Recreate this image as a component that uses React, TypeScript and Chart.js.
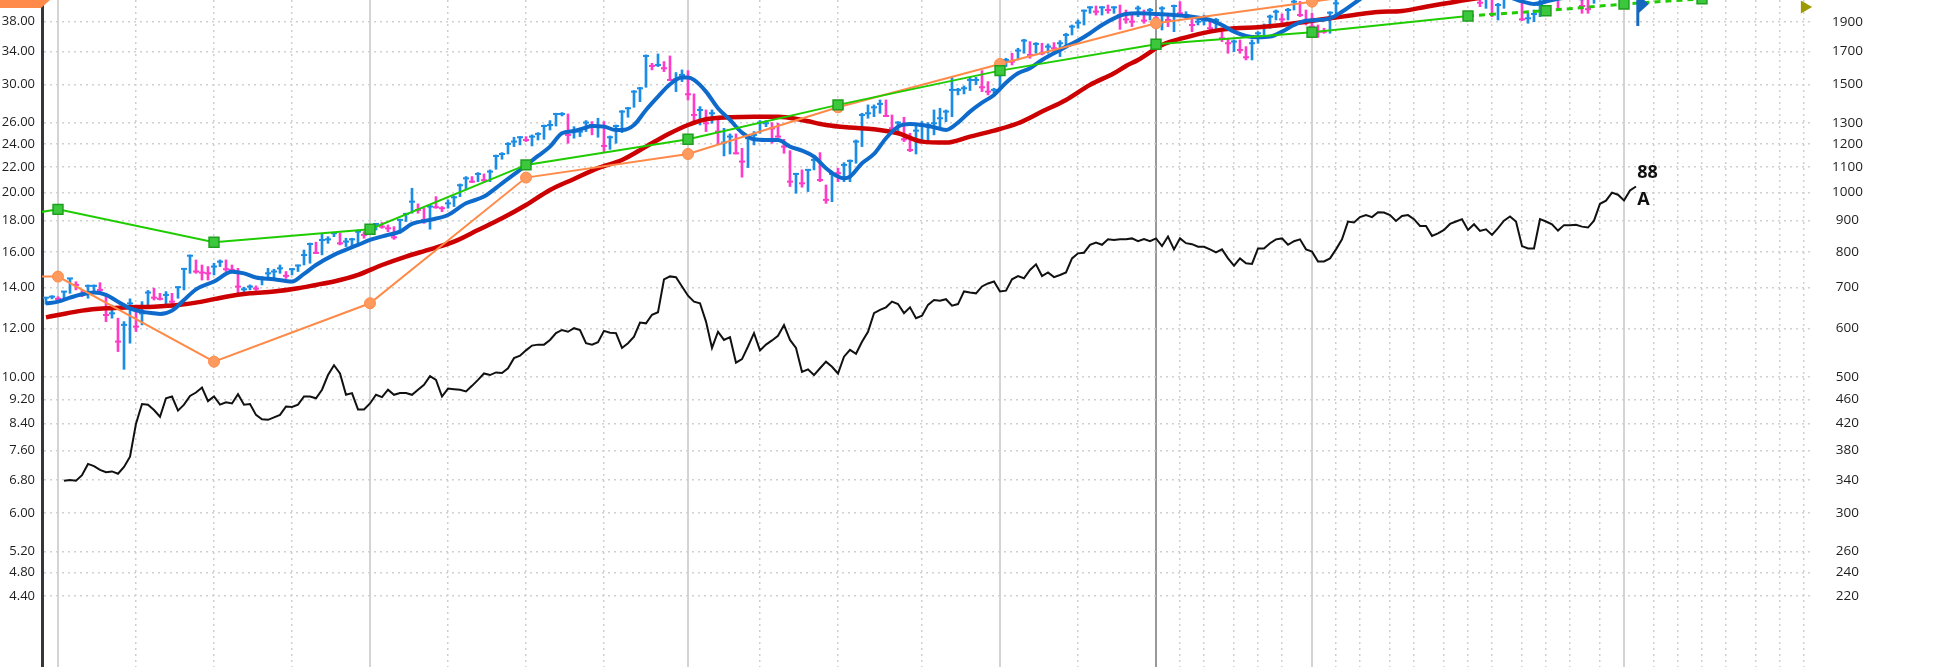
import React, { useEffect, useRef } from "react";
import { Chart, registerables } from "chart.js";

Chart.register(...registerables);

// ---------- canvas / plot frame ----------
const CANVAS_W = 1956;
const CANVAS_H = 667;
const PLOT_LEFT = 42;
const PLOT_RIGHT = 1812;

// ---------- axis ranges ----------
const X_MIN = -2.667;
const X_MAX = 292.333;
const Y_MIN = 3.368;
const Y_MAX = 41.22;
const RS_FACTOR = 50;

// ---------- tick labels ----------
const LEFT_TICKS = [38, 34, 30, 26, 24, 22, 20, 18, 16, 14, 12, 10, 9.2, 8.4, 7.6, 6.8, 6.0, 5.2, 4.8, 4.4];
const RIGHT_TICKS = [1900, 1700, 1500, 1300, 1200, 1100, 1000, 900, 800, 700, 600, 500, 460, 420, 380, 340, 300, 260, 240, 220];

// ---------- time grid (weeks) ----------
const YEAR_WEEKS = [0, 52, 105, 157, 209, 261];
const MARK_WEEK = 183;
const GRID_WEEKS = [13, 26, 39, 65, 78, 91, 117, 130, 144, 170, 187, 191, 196, 200, 204, 213, 217, 222, 226, 231, 235, 239, 244, 248, 252, 257, 266, 270, 274, 278, 283, 287, 291];

// ---------- weekly bars: [week, high, low, close, up(1)/down(0)] ----------
const BARS: [number, number, number, number, number][] = [
  [-2, 13.48, 13.15, 13.48, 1], [-1, 13.58, 13.42, 13.53, 1], [0, 13.53, 13.28, 13.42, 0], [1, 13.79, 13.40, 13.79, 1],
  [2, 14.49, 13.70, 14.49, 1], [3, 14.31, 13.88, 14.14, 0], [4, 13.85, 13.53, 13.67, 0], [5, 14.14, 13.45, 14.09, 1],
  [6, 14.14, 13.70, 14.09, 1], [7, 14.26, 13.70, 13.88, 0], [8, 13.56, 12.32, 12.63, 0], [9, 13.11, 12.48, 12.71, 1],
  [10, 12.48, 11.01, 11.43, 0], [11, 12.32, 10.30, 12.17, 1], [12, 13.42, 11.36, 13.19, 1], [13, 13.11, 11.87, 12.09, 0],
  [14, 13.28, 12.17, 12.71, 1], [15, 13.85, 13.06, 13.74, 1], [16, 13.97, 13.36, 13.48, 0], [17, 13.70, 13.36, 13.42, 0],
  [18, 13.79, 13.11, 13.62, 1], [19, 13.70, 13.16, 13.28, 0], [20, 14.05, 13.45, 14.02, 1], [21, 15.05, 13.88, 15.02, 1],
  [22, 15.82, 14.77, 15.78, 1], [23, 15.53, 14.77, 14.87, 0], [24, 15.24, 14.40, 14.81, 0], [25, 15.15, 14.40, 14.77, 0],
  [26, 15.34, 14.68, 15.15, 1], [27, 15.53, 15.15, 15.43, 1], [28, 15.53, 14.87, 15.00, 0], [29, 15.24, 14.87, 14.96, 0],
  [30, 15.05, 13.70, 14.05, 0], [31, 14.02, 13.79, 13.91, 1], [32, 14.14, 13.88, 14.05, 1], [33, 14.09, 13.85, 13.95, 0],
  [34, 14.59, 14.14, 14.49, 1], [35, 15.05, 14.49, 14.77, 1], [36, 15.00, 14.40, 14.87, 1], [37, 15.24, 14.77, 15.05, 1],
  [38, 14.87, 14.49, 14.63, 0], [39, 15.05, 14.68, 15.00, 1], [40, 15.24, 14.87, 15.21, 1], [41, 16.12, 15.24, 15.82, 1],
  [42, 16.55, 15.34, 16.49, 1], [43, 16.60, 15.90, 15.95, 0], [44, 17.11, 15.83, 16.74, 1], [45, 16.95, 16.53, 16.78, 1],
  [46, 17.23, 16.95, 17.17, 1], [47, 17.17, 16.43, 16.53, 0], [48, 16.85, 16.33, 16.64, 1], [49, 16.85, 16.33, 16.78, 1],
  [50, 17.38, 16.53, 17.27, 1], [51, 17.27, 16.85, 17.06, 0], [52, 17.64, 17.17, 17.49, 1], [53, 17.82, 17.38, 17.78, 1],
  [54, 17.87, 17.49, 17.60, 0], [55, 17.71, 17.27, 17.49, 0], [56, 17.60, 16.78, 16.91, 0], [57, 18.10, 17.17, 18.05, 1],
  [58, 18.51, 17.94, 18.46, 1], [59, 20.33, 18.51, 19.33, 1], [60, 19.17, 18.51, 18.74, 0], [61, 18.86, 17.82, 18.05, 0],
  [62, 19.09, 17.43, 18.98, 1], [63, 19.70, 18.86, 18.93, 0], [64, 18.98, 18.62, 18.86, 0], [65, 19.46, 18.86, 19.21, 1],
  [66, 19.75, 18.98, 19.65, 1], [67, 20.66, 19.70, 20.56, 1], [68, 21.24, 20.20, 21.10, 1], [69, 21.24, 20.76, 20.84, 0],
  [70, 21.56, 20.84, 21.45, 1], [71, 21.45, 20.76, 20.95, 0], [72, 21.78, 20.84, 21.64, 1], [73, 23.03, 21.83, 22.95, 1],
  [74, 23.24, 22.67, 23.12, 1], [75, 24.13, 23.12, 24.01, 1], [76, 24.62, 23.77, 24.22, 1], [77, 24.68, 23.92, 24.62, 1],
  [78, 24.68, 24.22, 24.37, 0], [79, 24.84, 23.83, 24.68, 1], [80, 25.05, 24.37, 24.93, 1], [81, 25.78, 24.43, 25.68, 1],
  [82, 26.21, 25.30, 25.78, 1], [83, 26.94, 25.68, 26.87, 1], [84, 27.01, 26.67, 26.87, 1], [85, 26.87, 24.07, 24.84, 0],
  [86, 25.62, 24.53, 25.15, 1], [87, 25.46, 24.68, 25.15, 1], [88, 26.21, 25.15, 26.01, 1], [89, 26.11, 24.84, 25.78, 0],
  [90, 26.44, 24.62, 25.62, 1], [91, 26.11, 23.32, 23.83, 0], [92, 24.74, 23.53, 24.62, 1], [93, 25.78, 24.07, 25.68, 1],
  [94, 27.21, 25.05, 27.11, 1], [95, 27.55, 26.54, 27.45, 1], [96, 29.34, 27.55, 29.22, 1], [97, 29.70, 28.14, 29.59, 1],
  [98, 33.54, 29.70, 33.41, 1], [99, 32.50, 31.70, 32.18, 0], [100, 33.66, 32.10, 32.30, 1], [101, 32.71, 31.50, 31.90, 0],
  [102, 33.41, 30.45, 30.53, 0], [103, 31.39, 29.22, 30.61, 1], [104, 31.70, 30.34, 31.11, 1], [105, 31.62, 28.32, 28.93, 0],
  [106, 28.97, 26.11, 26.77, 0], [107, 27.62, 25.78, 27.28, 1], [108, 27.28, 25.15, 25.95, 0], [109, 27.28, 25.95, 26.94, 1],
  [110, 26.27, 24.01, 25.15, 0], [111, 25.46, 22.95, 24.13, 1], [112, 24.93, 23.12, 24.68, 1], [113, 24.93, 23.12, 23.18, 0],
  [114, 23.62, 21.19, 22.47, 0], [115, 24.84, 21.97, 24.53, 1], [116, 25.15, 23.92, 24.84, 1], [117, 26.21, 24.99, 26.01, 1],
  [118, 26.21, 25.62, 25.95, 1], [119, 26.01, 24.07, 25.46, 0], [120, 25.95, 24.62, 24.68, 0], [121, 24.43, 23.18, 23.77, 0],
  [122, 23.41, 20.46, 20.84, 0], [123, 21.51, 19.95, 21.45, 1], [124, 21.78, 20.41, 20.71, 0], [125, 21.83, 20.08, 21.78, 1],
  [126, 22.95, 21.78, 22.61, 1], [127, 23.24, 20.84, 20.97, 0], [128, 20.58, 19.21, 19.46, 0], [129, 21.51, 19.33, 21.45, 1],
  [130, 21.92, 20.84, 21.51, 0], [131, 22.38, 20.84, 22.19, 1], [132, 22.61, 20.84, 22.53, 1], [133, 24.37, 22.33, 24.22, 1],
  [134, 26.94, 23.77, 26.77, 1], [135, 27.80, 26.44, 26.94, 1], [136, 27.80, 26.60, 27.55, 1], [137, 28.32, 26.94, 27.90, 1],
  [138, 28.32, 26.60, 26.67, 0], [139, 26.77, 25.30, 25.46, 0], [140, 26.11, 25.15, 26.01, 1], [141, 26.54, 24.22, 24.43, 0],
  [142, 24.99, 23.32, 23.47, 0], [143, 25.68, 23.12, 25.24, 1], [144, 26.11, 24.22, 25.68, 1], [145, 26.01, 24.22, 25.78, 1],
  [146, 27.28, 24.84, 25.95, 1], [147, 27.45, 25.62, 26.44, 1], [148, 27.28, 26.11, 27.11, 1], [149, 30.84, 26.60, 29.41, 1],
  [150, 29.59, 28.86, 29.41, 1], [151, 29.85, 28.97, 29.59, 1], [152, 30.84, 29.34, 30.53, 1], [153, 30.84, 30.00, 30.53, 1],
  [154, 31.62, 29.22, 29.70, 0], [155, 30.34, 28.86, 29.22, 0], [156, 29.59, 29.04, 29.41, 1], [157, 32.71, 29.41, 32.30, 1],
  [158, 33.12, 32.10, 32.91, 1], [159, 33.75, 32.30, 32.71, 0], [160, 34.39, 32.91, 34.09, 1], [161, 35.57, 33.75, 35.39, 1],
  [162, 35.26, 33.12, 33.54, 0], [163, 35.13, 33.75, 34.95, 1], [164, 35.04, 33.54, 33.75, 0], [165, 34.95, 33.75, 34.60, 1],
  [166, 35.13, 33.96, 34.39, 0], [167, 35.39, 33.33, 35.04, 1], [168, 36.38, 34.60, 36.15, 1], [169, 37.53, 36.15, 37.30, 1],
  [170, 38.24, 37.07, 37.86, 1], [171, 39.70, 37.53, 39.60, 1], [172, 40.20, 39.21, 40.10, 1], [173, 40.30, 38.96, 39.45, 0],
  [174, 40.20, 38.96, 40.10, 1], [175, 40.45, 39.21, 39.70, 0], [176, 40.20, 39.21, 40.10, 1], [177, 40.45, 36.92, 38.96, 0],
  [178, 39.70, 37.77, 38.33, 0], [179, 38.96, 37.30, 38.00, 0], [180, 40.30, 38.72, 39.95, 1], [181, 39.70, 37.77, 38.15, 0],
  [182, 39.95, 38.24, 39.70, 1], [183, 38.96, 37.30, 38.48, 0], [184, 40.20, 36.83, 39.95, 1], [185, 39.21, 37.30, 38.24, 0],
  [186, 40.45, 36.60, 40.30, 1], [187, 40.96, 38.96, 39.21, 0], [188, 39.45, 38.48, 38.96, 1], [189, 38.48, 36.60, 37.53, 0],
  [190, 38.72, 37.53, 38.00, 1], [191, 38.96, 37.53, 38.15, 1], [192, 38.15, 36.60, 37.07, 0], [193, 38.48, 36.60, 38.24, 1],
  [194, 36.60, 35.26, 35.70, 0], [195, 35.70, 33.75, 35.04, 0], [196, 35.48, 33.96, 35.26, 1], [197, 35.48, 33.75, 34.17, 0],
  [198, 34.60, 32.91, 33.24, 0], [199, 35.48, 32.91, 35.04, 1], [200, 36.60, 35.04, 36.38, 1], [201, 37.67, 35.70, 37.39, 1],
  [202, 38.96, 37.07, 38.72, 1], [203, 39.70, 38.24, 39.45, 1], [204, 39.11, 37.77, 38.33, 0], [205, 39.95, 38.24, 39.70, 1],
  [206, 41.80, 39.70, 40.96, 1], [207, 41.00, 38.72, 38.96, 0], [208, 39.70, 37.53, 38.00, 0], [209, 39.21, 36.38, 37.30, 0],
  [210, 37.53, 35.83, 36.60, 0], [211, 37.07, 36.38, 36.60, 0], [212, 39.45, 36.38, 39.30, 1], [213, 42.00, 38.96, 40.71, 1],
  [214, 44.0, 41.5, 43.5, 1], [215, 45.0, 43.0, 44.5, 1], [216, 45.5, 43.8, 44.2, 0], [217, 46.5, 44.0, 46.0, 1],
  [218, 47.0, 45.0, 45.5, 0], [219, 47.5, 45.0, 47.0, 1], [220, 48.0, 46.0, 46.5, 0], [221, 47.5, 45.5, 46.0, 0],
  [222, 47.5, 45.5, 47.0, 1], [223, 48.5, 46.5, 48.0, 1], [224, 48.5, 46.0, 46.5, 0], [225, 47.0, 44.5, 45.0, 0],
  [226, 46.5, 44.5, 46.0, 1], [227, 47.0, 45.0, 45.5, 0], [228, 46.5, 44.0, 44.5, 0], [229, 45.5, 43.5, 45.0, 1],
  [230, 46.0, 44.0, 44.5, 0], [231, 45.0, 43.0, 43.5, 0], [232, 44.5, 42.5, 44.0, 1], [233, 45.0, 43.0, 43.5, 0],
  [234, 44.5, 42.5, 44.0, 1], [235, 45.0, 43.0, 44.5, 1], [236, 45.0, 42.5, 43.0, 0], [237, 43.0, 40.2, 40.8, 0],
  [238, 42.5, 39.95, 41.8, 1], [239, 42.0, 38.72, 39.11, 0], [240, 40.71, 38.24, 40.45, 1], [241, 43.0, 39.95, 42.0, 1],
  [242, 43.5, 41.5, 42.5, 1], [243, 43.0, 41.3, 41.6, 0], [244, 42.5, 38.15, 38.33, 0], [245, 39.21, 37.77, 38.48, 1],
  [246, 39.70, 38.00, 39.11, 1], [247, 41.6, 38.72, 40.45, 1], [248, 43.0, 41.5, 42.5, 1], [249, 44.0, 42.0, 43.5, 1],
  [250, 44.0, 39.95, 41.8, 0], [251, 43.5, 41.4, 43.0, 1], [252, 44.5, 42.5, 44.0, 1], [253, 44.5, 41.6, 42.2, 0],
  [254, 42.5, 39.21, 40.30, 0], [255, 41.2, 39.21, 39.83, 0], [256, 42.5, 40.71, 42.2, 1], [257, 44.5, 42.0, 44.0, 1],
  [258, 46.5, 43.5, 46.0, 1], [259, 47.5, 45.5, 47.0, 1], [260, 47.5, 45.0, 45.8, 0], [261, 48.0, 45.5, 47.5, 1],
  [262, 49.0, 47.0, 48.5, 1], [263, 49.0, 47.2, 47.8, 0],
];

// ---------- relative strength line (right axis), weeks 1..263 ----------
const RS_FIRST_WEEK = 1;
const RS_LINE = [
  339, 340, 339, 346, 361, 358, 353, 350, 351, 348,
  357, 371, 420, 452, 451, 442, 431, 462, 465, 441,
  451, 466, 472, 481, 457, 465, 451, 455, 453, 469,
  451, 452, 434, 427, 426, 430, 434, 448, 447, 451,
  465, 465, 462, 477, 504, 523, 507, 468, 471, 443,
  443, 453, 468, 464, 477, 468, 471, 471, 468, 477,
  486, 502, 495, 465, 479, 478, 477, 474, 484, 495,
  507, 504, 509, 508, 517, 537, 542, 553, 563, 565,
  565, 575, 590, 597, 593, 601, 597, 568, 565, 570,
  595, 591, 590, 558, 568, 582, 614, 612, 632, 638,
  722, 730, 728, 703, 679, 664, 660, 616, 558, 593,
  575, 581, 528, 535, 561, 590, 553, 565, 574, 584,
  608, 575, 558, 510, 515, 504, 517, 530, 520, 507,
  540, 554, 546, 571, 593, 636, 644, 650, 664, 658,
  636, 650, 624, 630, 656, 668, 666, 670, 654, 658,
  690, 687, 685, 703, 711, 716, 690, 692, 722, 731,
  725, 748, 764, 731, 741, 728, 734, 741, 781, 796,
  798, 822, 829, 822, 839, 837, 839, 839, 842, 833,
  840, 833, 842, 818, 848, 808, 842, 827, 824, 816,
  816, 808, 799, 808, 781, 760, 781, 767, 765, 811,
  811, 827, 839, 842, 822, 833, 839, 808, 801, 772,
  772, 781, 808, 839, 897, 894, 912, 919, 912, 929,
  928, 919, 899, 916, 919, 905, 882, 882, 850, 858,
  869, 889, 897, 905, 869, 888, 866, 871, 853, 875,
  900, 914, 897, 818, 811, 811, 905, 897, 888, 867,
  885, 885, 886, 880, 877, 900, 959, 970, 1000, 992,
  971, 1008, 1023,
];

// ---------- moving averages: [week, value] ----------
const MA_FAST: [number, number][] = [
  [-2, 13.18], [0, 13.28], [2, 13.48], [4, 13.65], [6, 13.74], [8, 13.62], [10, 13.28], [12, 12.95], [14, 12.79],
  [16, 12.71], [17, 12.68], [19, 12.84], [21, 13.36], [23, 13.91], [26, 14.32], [29, 14.86], [31, 14.77], [33, 14.54],
  [36, 14.45], [39, 14.32], [41, 14.74], [43, 15.24], [46, 15.83], [50, 16.43], [52, 16.74], [55, 17.06], [57, 17.27],
  [59, 17.78], [62, 18.05], [65, 18.39], [68, 19.21], [71, 19.70], [74, 20.71], [77, 21.78], [80, 22.95], [82, 23.77],
  [84, 24.99], [86, 25.21], [88, 25.53], [89, 25.68], [91, 25.62], [93, 25.30], [94, 25.30], [96, 25.78], [98, 27.28],
  [100, 28.68], [102, 30.04], [104, 30.80], [105, 30.80], [106, 30.53], [108, 29.22], [110, 27.45], [112, 26.27],
  [114, 25.05], [116, 24.43], [118, 24.37], [120, 24.37], [122, 23.77], [124, 23.41], [126, 22.89], [128, 21.92],
  [130, 21.24], [131, 21.10], [132, 21.24], [134, 22.33], [136, 23.12], [138, 24.53], [140, 25.62], [142, 25.88],
  [144, 25.78], [146, 25.56], [148, 25.30], [150, 26.01], [152, 27.11], [154, 28.04], [156, 28.86], [158, 30.22],
  [160, 31.31], [162, 31.90], [164, 32.91], [166, 33.75], [168, 34.60], [170, 35.39], [172, 36.38], [174, 37.53],
  [176, 38.48], [178, 39.11], [180, 39.21], [183, 39.11], [186, 38.96], [189, 38.72], [192, 38.24], [194, 37.53],
  [196, 36.60], [198, 36.01], [200, 35.83], [202, 35.92], [204, 36.60], [206, 37.53], [208, 38.15], [210, 38.24],
  [212, 38.48], [214, 39.45], [216, 40.71], [218, 42.0], [220, 43.2], [223, 44.5], [226, 45.2], [229, 45.3],
  [232, 44.6], [235, 43.8], [238, 43.0], [241, 42.0], [243, 41.3], [244, 41.0], [246, 40.6], [248, 41.0],
  [250, 41.4], [252, 41.6], [254, 41.5], [256, 41.8], [258, 42.5], [260, 43.5], [262, 44.5], [263, 45.0],
];

const MA_SLOW: [number, number][] = [
  [-2, 12.52], [0, 12.63], [4, 12.84], [8, 12.95], [12, 13.00], [16, 13.03], [20, 13.11], [24, 13.28], [28, 13.53],
  [32, 13.70], [36, 13.79], [40, 13.96], [43, 14.14], [46, 14.32], [50, 14.68], [54, 15.24], [58, 15.73], [62, 16.16],
  [66, 16.64], [70, 17.38], [74, 18.16], [78, 19.09], [82, 20.20], [86, 21.05], [90, 21.92], [94, 22.61], [98, 23.77],
  [102, 24.99], [105, 25.78], [108, 26.34], [112, 26.54], [116, 26.60], [120, 26.60], [124, 26.27], [128, 25.78],
  [132, 25.53], [136, 25.37], [140, 24.99], [144, 24.22], [148, 24.13], [152, 24.68], [156, 25.24], [160, 25.95],
  [164, 27.11], [168, 28.32], [172, 29.97], [176, 31.31], [178, 32.18], [180, 32.91], [184, 34.82], [188, 35.83],
  [192, 36.60], [196, 37.07], [200, 37.21], [204, 37.53], [208, 38.00], [212, 38.48], [216, 38.96], [220, 39.40],
  [224, 39.55], [228, 40.20], [232, 40.81], [234, 41.12], [240, 42.0], [246, 42.8], [252, 43.5], [258, 44.2], [263, 44.8],
];

// ---------- fundamentals lines: [week, value] ----------
const GREEN_LINE: [number, number][] = [
  [-26, 17.12], [0, 18.78], [26, 16.60], [52, 17.43], [78, 22.19], [105, 24.43], [130, 27.80], [157, 31.62],
  [183, 34.91], [209, 36.52], [235, 38.82], [248, 39.60], [261, 40.60], [274, 41.4],
];
const GREEN_ESTIMATE_FROM = 235;
const ORANGE_LINE: [number, number][] = [
  [-26, 14.59], [0, 14.59], [26, 10.60], [52, 13.20], [78, 21.16], [105, 23.12], [130, 27.55], [157, 32.42],
  [183, 37.77], [209, 40.96], [235, 44.5], [261, 47.5],
];

// ---------- annotations ----------
const RS_RATING = "88";
const AD_RATING = "A";
const RATING_WEEK = 263.2;
const RS_RATING_LEVEL = 1076;
const AD_RATING_LEVEL = 973;
const FLAG_WEEK = 263.3;
const FLAG_TOP = 42.14;
const FLAG_BOTTOM = 37.39;
const MARKER_WEEK = 291.1;
const MARKER_PRICE = 40.15;

const UP_COLOR = "#1b8de6";
const DOWN_COLOR = "#ff3cc8";

// Pin the plot frame so that the chart area spans the full canvas height.
const framePlugin = {
  id: "frame",
  afterLayout(chart: any) {
    const area = { left: PLOT_LEFT, top: 0, right: PLOT_RIGHT, bottom: CANVAS_H, width: PLOT_RIGHT - PLOT_LEFT, height: CANVAS_H };
    chart.chartArea = area;
    const set = (s: any, l: number, t: number, r: number, b: number) => {
      if (!s) return;
      s.left = l; s.top = t; s.right = r; s.bottom = b;
      s.width = r - l; s.height = b - t;
      s.configure();
    };
    set(chart.scales.y, 0, 0, PLOT_LEFT, CANVAS_H);
    set(chart.scales.y2, PLOT_RIGHT, 0, CANVAS_W, CANVAS_H);
    set(chart.scales.x, PLOT_LEFT, CANVAS_H, PLOT_RIGHT, CANVAS_H);
    set(chart.scales.x2, PLOT_LEFT, CANVAS_H, PLOT_RIGHT, CANVAS_H);
  },
};

const extrasPlugin = {
  id: "extras",
  afterDraw(chart: any) {
    const { ctx, scales } = chart;
    const x = scales.x;
    const y = scales.y;
    const y2 = scales.y2;
    ctx.save();
    // blue flag
    const fx = x.getPixelForValue(FLAG_WEEK);
    const ft = y.getPixelForValue(FLAG_TOP);
    const fb = y.getPixelForValue(FLAG_BOTTOM);
    ctx.strokeStyle = "#1668bf";
    ctx.lineWidth = 3;
    ctx.beginPath();
    ctx.moveTo(fx, ft);
    ctx.lineTo(fx, fb);
    ctx.stroke();
    ctx.fillStyle = "#1668bf";
    ctx.beginPath();
    ctx.moveTo(fx, ft);
    ctx.lineTo(fx + 11, ft + 10);
    ctx.lineTo(fx, ft + 20);
    ctx.closePath();
    ctx.fill();
    // ratings text
    const tx = x.getPixelForValue(RATING_WEEK);
    ctx.fillStyle = "#111";
    ctx.font = 'bold 18px "Open Sans", "DejaVu Sans", sans-serif';
    ctx.textAlign = "left";
    ctx.textBaseline = "middle";
    ctx.fillText(RS_RATING, tx, y2.getPixelForValue(RS_RATING_LEVEL));
    ctx.fillText(AD_RATING, tx, y2.getPixelForValue(AD_RATING_LEVEL));
    // orange tab at top-left corner
    ctx.fillStyle = "#ff8a4a";
    ctx.beginPath();
    ctx.moveTo(0, 0);
    ctx.lineTo(50, 0);
    ctx.lineTo(41, 8);
    ctx.lineTo(0, 8);
    ctx.closePath();
    ctx.fill();
    ctx.restore();
  },
};

export default function App() {
  const ref = useRef<HTMLCanvasElement>(null);

  useEffect(() => {
    const canvas = ref.current;
    if (!canvas) return;

    const barColors = BARS.map((b) => (b[4] ? UP_COLOR : DOWN_COLOR));
    const rangeData = BARS.map((b) => ({ x: b[0], y: [b[2], b[1]] }));
    const closeData = BARS.map((b) => ({ x: b[0], y: b[3] }));
    const rsData = RS_LINE.map((v, i) => ({ x: RS_FIRST_WEEK + i, y: v }));
    const toPts = (arr: [number, number][]) => arr.map((p) => ({ x: p[0], y: p[1] }));

    const chart = new Chart(canvas, {
      type: "scatter",
      data: {
        datasets: [
          {
            type: "scatter",
            label: "marker",
            data: [{ x: MARKER_WEEK, y: MARKER_PRICE }],
            pointStyle: "triangle",
            rotation: 90,
            pointRadius: 7.5,
            backgroundColor: "#9c9a00",
            borderColor: "#9c9a00",
            borderWidth: 0,
            clip: false,
            order: 0,
          } as any,
          {
            type: "line",
            label: "rs",
            data: rsData,
            yAxisID: "y2",
            borderColor: "#111111",
            borderWidth: 2,
            pointRadius: 0,
            tension: 0,
            order: 1,
          },
          {
            type: "line",
            label: "green",
            data: toPts(GREEN_LINE),
            borderColor: "#1fcc00",
            borderWidth: 2,
            pointStyle: "rect",
            pointRadius: 7,
            pointBackgroundColor: "#3cc83c",
            pointBorderColor: "#1f9f1f",
            pointBorderWidth: 1.5,
            tension: 0,
            segment: {
              borderDash: (c: any) => (c.p0.parsed.x >= GREEN_ESTIMATE_FROM ? [6, 5] : undefined),
              borderWidth: (c: any) => (c.p0.parsed.x >= GREEN_ESTIMATE_FROM ? 3 : 2),
            },
            order: 2,
          } as any,
          {
            type: "line",
            label: "orange",
            data: toPts(ORANGE_LINE),
            borderColor: "#ff8a48",
            borderWidth: 2,
            pointStyle: "circle",
            pointRadius: 5.5,
            pointBackgroundColor: "#ff9a5e",
            pointBorderColor: "#ff8a48",
            pointBorderWidth: 1,
            tension: 0,
            order: 3,
          },
          {
            type: "line",
            label: "fast",
            data: toPts(MA_FAST),
            borderColor: "#0e6bcc",
            borderWidth: 4,
            pointRadius: 0,
            cubicInterpolationMode: "monotone",
            order: 4,
          },
          {
            type: "line",
            label: "slow",
            data: toPts(MA_SLOW),
            borderColor: "#cc0000",
            borderWidth: 4.5,
            pointRadius: 0,
            cubicInterpolationMode: "monotone",
            order: 5,
          },
          {
            type: "scatter",
            label: "close",
            data: closeData,
            pointStyle: "line",
            pointRadius: 3,
            pointBorderWidth: 2,
            pointBorderColor: barColors,
            pointBackgroundColor: barColors,
            order: 6,
          } as any,
          {
            type: "bar",
            label: "range",
            data: rangeData as any,
            backgroundColor: barColors,
            barThickness: 2,
            order: 7,
          } as any,
        ],
      },
      options: {
        responsive: false,
        animation: false,
        devicePixelRatio: 1,
        events: [],
        layout: { padding: 0 },
        plugins: { legend: { display: false }, tooltip: { enabled: false } },
        scales: {
          x: {
            type: "linear",
            min: X_MIN,
            max: X_MAX,
            bounds: "data",
            offset: false,
            position: "bottom",
            afterBuildTicks: (s: any) => {
              s.ticks = GRID_WEEKS.map((v) => ({ value: v }));
            },
            afterFit: (s: any) => {
              s.height = 0;
            },
            ticks: { display: false },
            grid: { color: "#d0d0d0", lineWidth: 1.5, drawTicks: false, offset: false },
            border: { display: false, dash: [2, 4] },
          },
          x2: {
            type: "linear",
            min: X_MIN,
            max: X_MAX,
            bounds: "data",
            offset: false,
            position: "bottom",
            afterBuildTicks: (s: any) => {
              s.ticks = [...YEAR_WEEKS, MARK_WEEK].sort((a, b) => a - b).map((v) => ({ value: v }));
            },
            afterFit: (s: any) => {
              s.height = 0;
            },
            ticks: { display: false },
            grid: {
              color: (c: any) => (c.tick && c.tick.value === MARK_WEEK ? "#999999" : "#d4d4d4"),
              lineWidth: 2,
              drawTicks: false,
              offset: false,
            },
            border: { display: false },
          },
          y: {
            type: "logarithmic",
            position: "left",
            min: Y_MIN,
            max: Y_MAX,
            bounds: "data",
            afterBuildTicks: (s: any) => {
              s.ticks = [...LEFT_TICKS].sort((a, b) => a - b).map((v) => ({ value: v }));
            },
            afterFit: (s: any) => {
              s.width = PLOT_LEFT;
            },
            ticks: {
              autoSkip: false,
              padding: 7,
              color: "#1e1e1e",
              font: { family: '"Open Sans", "DejaVu Sans", sans-serif', size: 13 },
              callback: (v: any) => Number(v).toFixed(2),
            },
            grid: { color: "#d0d0d0", lineWidth: 1.5, drawTicks: false },
            border: { display: true, color: "#33373b", width: 3, dash: [2, 4] },
          },
          y2: {
            type: "logarithmic",
            position: "right",
            min: Y_MIN * RS_FACTOR,
            max: Y_MAX * RS_FACTOR,
            bounds: "data",
            afterBuildTicks: (s: any) => {
              s.ticks = [...RIGHT_TICKS].sort((a, b) => a - b).map((v) => ({ value: v }));
            },
            afterFit: (s: any) => {
              s.width = CANVAS_W - PLOT_RIGHT;
            },
            ticks: {
              autoSkip: false,
              padding: 20,
              crossAlign: "center",
              color: "#1e1e1e",
              font: { family: '"Open Sans", "DejaVu Sans", sans-serif', size: 13.5 },
              callback: (v: any) => String(v),
            },
            grid: { display: false, drawTicks: false },
            border: { display: false },
          },
        } as any,
      },
      plugins: [framePlugin, extrasPlugin],
    });

    return () => chart.destroy();
  }, []);

  return (
    <div style={{ position: "fixed", left: 0, top: 0, width: CANVAS_W, height: CANVAS_H, background: "#ffffff" }}>
      <canvas ref={ref} width={CANVAS_W} height={CANVAS_H} style={{ display: "block", width: CANVAS_W, height: CANVAS_H }} />
    </div>
  );
}
